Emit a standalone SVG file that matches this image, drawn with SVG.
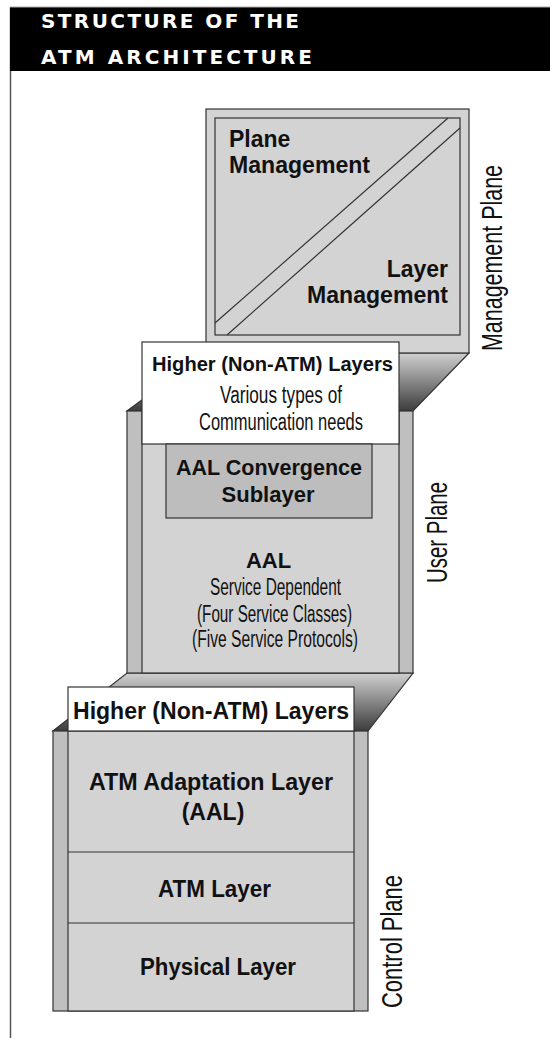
<svg xmlns="http://www.w3.org/2000/svg" width="550" height="1038" viewBox="0 0 550 1038">
<defs>
<linearGradient id="floorGrad" x1="0" y1="0" x2="0" y2="1">
<stop offset="0" stop-color="#d0d0d0"/>
<stop offset="1" stop-color="#3c3c3c"/>
</linearGradient>
<style>
.ol{stroke:#333;stroke-width:1.2}
.light{fill:#d3d3d3}
.strip{fill:#bfbfbf}
.white{fill:#fff}
.conv{fill:#bdbdbd}
.b{font-family:"Liberation Sans",Arial,sans-serif;font-weight:bold;fill:#111}
.r{font-family:"Liberation Sans",Arial,sans-serif;font-weight:normal;fill:#111}
.hd{font-family:"DejaVu Sans","Liberation Sans",sans-serif;font-weight:bold;font-size:20px;fill:#fff}
.mid{text-anchor:middle}
.end{text-anchor:end}
</style>
</defs>
<rect width="550" height="1038" fill="#fff"/>
<g id="frame">
<line x1="10" y1="7.5" x2="550" y2="7.5" stroke="#555" stroke-width="1.5"/>
<line x1="10.5" y1="7" x2="10.5" y2="1038" stroke="#555" stroke-width="1.5"/>
<rect x="10" y="8" width="540" height="63" fill="#000"/>
<text class="hd" x="41" y="28" textLength="258" lengthAdjust="spacing">STRUCTURE OF THE</text>
<text class="hd" x="41" y="64" textLength="271" lengthAdjust="spacing">ATM ARCHITECTURE</text>
</g>
<g id="connectors">
<polygon class="ol" fill="url(#floorGrad)" points="206,353 469,353 413,411 127,411"/>
<polygon class="ol" fill="url(#floorGrad)" points="127,673 413,673 368,731 53,731"/>
</g>
<g id="management-plane">
<rect class="ol light" x="206" y="109" width="263" height="244"/>
<rect class="ol light" x="215" y="118" width="245" height="217"/>
<line class="ol" x1="448" y1="118" x2="215" y2="323"/>
<line class="ol" x1="460" y1="128" x2="227" y2="335"/>
<text class="b" font-size="23" x="229" y="147">Plane</text>
<text class="b" font-size="23" x="229" y="173" textLength="141" lengthAdjust="spacingAndGlyphs">Management</text>
<text class="b end" font-size="23" x="448" y="277">Layer</text>
<text class="b end" font-size="23" x="448" y="303" textLength="141" lengthAdjust="spacingAndGlyphs">Management</text>
<text class="r mid" font-size="29" transform="translate(502,258) rotate(-90)" textLength="186" lengthAdjust="spacingAndGlyphs">Management Plane</text>
</g>
<g id="user-plane">
<rect class="ol strip" x="127" y="411" width="286" height="262"/>
<rect class="ol light" x="142" y="411" width="257" height="262"/>
<rect class="ol white" x="142" y="342" width="257" height="102"/>
<rect class="ol conv" x="166" y="444" width="206" height="74"/>
<text class="b mid" font-size="20" x="272.5" y="371" textLength="241" lengthAdjust="spacingAndGlyphs">Higher (Non-ATM) Layers</text>
<text class="r mid" font-size="23" x="281" y="403" textLength="122" lengthAdjust="spacingAndGlyphs">Various types of</text>
<text class="r mid" font-size="23" x="281" y="430" textLength="164" lengthAdjust="spacingAndGlyphs">Communication needs</text>
<text class="b mid" font-size="22" x="269" y="475" textLength="186" lengthAdjust="spacingAndGlyphs">AAL Convergence</text>
<text class="b mid" font-size="22" x="268" y="502">Sublayer</text>
<text class="b mid" font-size="22" x="268.5" y="568">AAL</text>
<text class="r mid" font-size="23" x="275.5" y="595" textLength="131" lengthAdjust="spacingAndGlyphs">Service Dependent</text>
<text class="r mid" font-size="23" x="274.5" y="622" textLength="155" lengthAdjust="spacingAndGlyphs">(Four Service Classes)</text>
<text class="r mid" font-size="23" x="275" y="647" textLength="166" lengthAdjust="spacingAndGlyphs">(Five Service Protocols)</text>
<text class="r mid" font-size="29" transform="translate(447,532.5) rotate(-90)" textLength="101" lengthAdjust="spacingAndGlyphs">User Plane</text>
</g>
<g id="control-plane">
<rect class="ol strip" x="53" y="731" width="315" height="280"/>
<rect class="ol light" x="68" y="731" width="286" height="280"/>
<rect class="ol white" x="68" y="687" width="286" height="44"/>
<line class="ol" x1="68" y1="852" x2="354" y2="852"/>
<line class="ol" x1="68" y1="923" x2="354" y2="923"/>
<text class="b mid" font-size="23" x="211" y="719" textLength="276" lengthAdjust="spacingAndGlyphs">Higher (Non-ATM) Layers</text>
<text class="b mid" font-size="23" x="211" y="790" textLength="244" lengthAdjust="spacingAndGlyphs">ATM Adaptation Layer</text>
<text class="b mid" font-size="23" x="213" y="820">(AAL)</text>
<text class="b mid" font-size="23" x="214.5" y="897" textLength="113" lengthAdjust="spacingAndGlyphs">ATM Layer</text>
<text class="b mid" font-size="23" x="218" y="975" textLength="156" lengthAdjust="spacingAndGlyphs">Physical Layer</text>
<text class="r mid" font-size="29" transform="translate(402,941.5) rotate(-90)" textLength="133" lengthAdjust="spacingAndGlyphs">Control Plane</text>
</g>
</svg>
